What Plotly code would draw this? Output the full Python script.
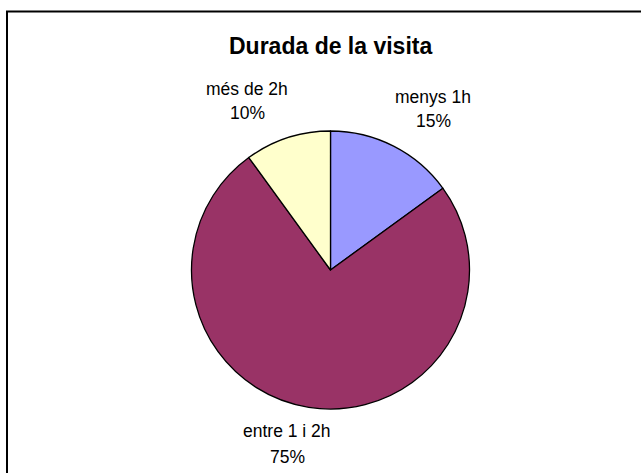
import plotly.graph_objects as go

# Data
categories = ["menys 1h", "entre 1 i 2h", "més de 2h"]
values = [15, 75, 10]
colors = ["#9999FF", "#993366", "#FFFFCC"]
title_text = "Durada de la visita"

W, H = 641, 473
total = sum(values)
pct = [round(v / total * 100) for v in values]

# label placement (pixels): x centre, y of line 1, y of line 2
label_pos = [(433, 97, 121), (287, 431, 457), (247, 89, 113)]

fig = go.Figure(go.Pie(
    labels=categories,
    values=values,
    sort=False,
    direction="clockwise",
    rotation=0,
    textinfo="none",
    hoverinfo="label+percent",
    marker=dict(colors=colors, line=dict(color="black", width=1.3)),
    domain=dict(x=[(330.5 - 139) / W, (330.5 + 139) / W],
                y=[(H - 270 - 139) / H, (H - 270 + 139) / H]),
    showlegend=False,
))

label_font = dict(family="Liberation Sans, Arial, sans-serif", size=17.5, color="black")
annotations = [dict(
    text=f"<b>{title_text}</b>", x=330 / W, y=1 - 46 / H, xref="paper", yref="paper",
    xanchor="center", yanchor="middle", showarrow=False,
    font=dict(family="Liberation Sans, Arial, sans-serif", size=23, color="black"))]
for cat, p, (px, py1, py2) in zip(categories, pct, label_pos):
    for txt, py in ((cat, py1), (f"{p}%", py2)):
        annotations.append(dict(
            text=txt, x=px / W, y=1 - py / H, xref="paper", yref="paper",
            xanchor="center", yanchor="middle", showarrow=False,
            font=label_font))

fig.update_layout(
    width=W, height=H,
    margin=dict(l=0, r=0, t=0, b=0),
    paper_bgcolor="white", plot_bgcolor="white",
    annotations=annotations,
    shapes=[dict(type="rect", xref="paper", yref="paper",
                 x0=7 / W, x1=1.05, y0=-0.05, y1=1 - 11.5 / H,
                 line=dict(color="black", width=2))],
)

fig.write_html("out.html", config={"displayModeBar": False},
               post_script="document.body.style.margin='0';")
